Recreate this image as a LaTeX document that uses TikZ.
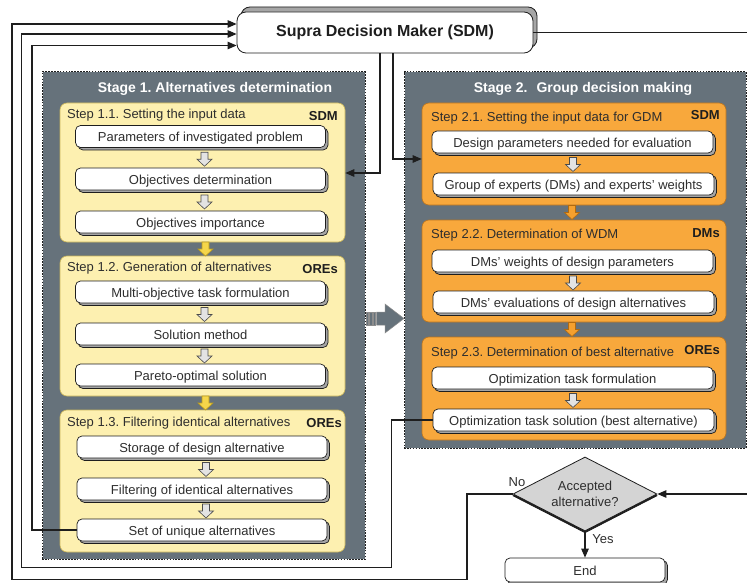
\documentclass[tikz,border=0pt]{standalone}
\usepackage{fontspec}
\setmainfont{Liberation Sans}
\usetikzlibrary{shapes.geometric,arrows.meta,shadows,calc}
\definecolor{slate}{HTML}{66727B}
\definecolor{ylw}{HTML}{FDF0B0}
\definecolor{ylwd}{HTML}{C9B45A}
\definecolor{org}{HTML}{F8A83C}
\definecolor{orgd}{HTML}{B87420}
\definecolor{ink}{HTML}{2E2E2E}
\definecolor{lin}{HTML}{1E1E1E}
\definecolor{shad}{HTML}{A6A6A6}
\definecolor{yarr}{HTML}{F5D64A}
\definecolor{yarrd}{HTML}{B89A20}
\definecolor{oarr}{HTML}{F5A02E}
\definecolor{oarrd}{HTML}{B06A10}
\definecolor{garr}{HTML}{E3E3E3}
\definecolor{dgray}{HTML}{D4D4D4}
\frenchspacing
\begin{document}
\begin{tikzpicture}[x=1pt,y=-1pt,
  txt/.style={font=\fontsize{13}{15}\selectfont, text=ink},
  lbl/.style={txt, inner sep=0pt, anchor=west},
  tag/.style={font=\fontsize{13}{15}\selectfont\bfseries, text=lin, inner sep=0pt, anchor=east},
  stagebox/.style={draw=white, line width=1pt, fill=slate, inner sep=0pt,
     postaction={draw=lin, dash pattern=on 1.6pt off 1.3pt, line width=1pt}},
  stagetitle/.style={font=\fontsize{14}{16}\selectfont\bfseries, text=white},
  yelbox/.style={draw=ylwd, fill=ylw, rounded corners=7pt, line width=0.6pt, inner sep=0pt, minimum width=285pt},
  orgbox/.style={draw=orgd, fill=org, rounded corners=7pt, line width=0.6pt, inner sep=0pt, minimum width=304pt},
  ibox/.style={txt, draw=lin, line width=0.7pt, fill=white, rounded corners=5pt, inner sep=0pt, minimum height=22pt,
     text height=11pt, text depth=0pt,
     general shadow={shadow xshift=2.5pt, shadow yshift=-2.5pt, fill=shad, draw=lin, line width=0.7pt}},
  ib1/.style={ibox, minimum width=250pt},
  ib2/.style={ibox, minimum width=281pt},
  sdmbox/.style={font=\fontsize{16}{18}\selectfont\bfseries, text=lin, draw=lin, line width=0.8pt, fill=white,
     rounded corners=9pt, inner sep=0pt, minimum width=296pt, minimum height=41pt,
     general shadow={shadow xshift=4pt, shadow yshift=5pt, fill=shad, draw=lin, line width=0.8pt}},
  decbox/.style={diamond, aspect=2, draw=lin, line width=0.8pt, fill=dgray, minimum width=144pt, minimum height=74pt,
     inner sep=0pt, align=center, font=\fontsize{13}{16}\selectfont, text=ink,
     general shadow={shadow xshift=0pt, shadow yshift=-1.8pt, fill=lin, draw=lin}},
  conn/.style={draw=lin, line width=1.1pt},
  arr/.style={conn, -{Triangle[length=9pt,width=7.5pt]}},
  pics/blockdown/.style 2 args={code={
     \path[fill=#1, draw=#2, line width=0.6pt]
       (-3.5,-7) -- (3.5,-7) -- (3.5,0) -- (7.5,0) -- (0,7) -- (-7.5,0) -- (-3.5,0) -- cycle;}}
]
\fill[white] (0,0) rectangle (747,583);
\useasboundingbox (0,0) rectangle (747,583);

% stages
\node[stagebox, minimum width=323pt, minimum height=487pt] (st1) at (203.5,315.5) {};
\node[stagebox, minimum width=342pt, minimum height=376pt] (st2) at (575,260) {};
\node[stagetitle] (t1) at (215,89) {Stage 1. Alternatives determination};
\node[stagetitle] (t2) at (583,89) {Stage 2.\hspace{9pt}Group decision making};

% big arrow between stages
\path[fill=slate, draw=black!45, line width=0.5pt]
  (376.5,312) -- (385,312) -- (385,304) -- (404,318.5) -- (385,333) -- (385,325) -- (376.5,325) -- cycle;
\foreach \xa in {366,369.5,373}
  \path[fill=slate, draw=black!45, line width=0.4pt] (\xa,312) rectangle ++(2.2,13);

% steps
\node[yelbox, minimum height=139pt] (s11) at (202.5,172.5) {};
\node[yelbox, minimum height=140pt] (s12) at (202.5,326) {};
\node[yelbox, minimum height=142pt] (s13) at (202.5,481) {};
\node[orgbox, minimum height=102pt] (s21) at (574,154) {};
\node[orgbox, minimum height=102pt] (s22) at (574,271) {};
\node[orgbox, minimum height=103pt] (s23) at (574,388.5) {};

\node[lbl] (l11) at (67,115) {Step 1.1. Setting the input data};
\node[tag] (g11) at (338,116) {SDM};
\node[lbl] (l12) at (67,268) {Step 1.2. Generation of alternatives};
\node[tag] (g12) at (338,269) {OREs};
\node[lbl] (l13) at (67,423) {Step 1.3. Filtering identical alternatives};
\node[tag] (g13) at (342,423) {OREs};
\node[lbl] (l21) at (431,118) {Step 2.1. Setting the input data for GDM};
\node[tag] (g21) at (720,115) {SDM};
\node[lbl] (l22) at (431,235) {Step 2.2. Determination of WDM};
\node[tag] (g22) at (720,233) {DMs};
\node[lbl] (l23) at (431,353) {Step 2.3. Determination of best alternative};
\node[tag] (g23) at (720,350) {OREs};

% inner boxes stage 1
\node[ib1] (p11) at (200.5,136.5) {Parameters of investigated problem};
\node[ib1] (p12) at (200.5,179) {Objectives determination};
\node[ib1] (p13) at (200.5,222) {Objectives importance};
\node[ib1] (p21) at (200.5,292) {Multi-objective task formulation};
\node[ib1] (p22) at (200.5,334) {Solution method};
\node[ib1] (p23) at (200.5,375) {Pareto-optimal solution};
\node[ib1] (p31) at (202,447) {Storage of design alternative};
\node[ib1] (p32) at (202,489) {Filtering of identical alternatives};
\node[ib1] (unique) at (202,530) {Set of unique alternatives};
% inner boxes stage 2
\node[ib2] (q11) at (572.5,142) {Design parameters needed for evaluation};
\node[ib2] (q12) at (573.5,184) {Group of experts (DMs) and experts’ weights};
\node[ib2] (q21) at (572.5,261) {DMs’ weights of design parameters};
\node[ib2] (q22) at (573.5,302) {DMs’ evaluations of design alternatives};
\node[ib2] (q31) at (572.5,378) {Optimization task formulation};
\node[ib2] (sol) at (573.5,420) {Optimization task solution (best alternative)};

% small block arrows
\foreach \a/\b in {p11/p12,p12/p13,p21/p22,p22/p23,p31/p32,p32/unique}
  \pic at ($(\a.south)!0.5!(\b.north)+(4,1.5)$) {blockdown={garr}{lin!80}};
\foreach \a/\b in {q11/q12,q21/q22,q31/sol}
  \pic at ($(\a.south)!0.5!(\b.north)+(0,1.5)$) {blockdown={garr}{lin!80}};
\foreach \a/\b in {s11/s12,s12/s13}
  \pic at ($(\a.south)!0.5!(\b.north)+(3,0)$) {blockdown={yarr}{yarrd}};
\foreach \a/\b in {s21/s22,s22/s23}
  \pic at ($(\a.south)!0.5!(\b.north)+(-2,0)$) {blockdown={oarr}{oarrd}};

% SDM, decision, end
\node[sdmbox] (sdm) at (385,32.5) {Supra Decision Maker (SDM)};
\node[decbox] (dec) at (585,494) {Accepted\\alternative?};
\node[ibox, minimum width=160pt, minimum height=24pt] (end) at (585,570) {End};
\node[txt, inner sep=0pt] (no) at (517,482) {No};
\node[txt, inner sep=0pt] (yes) at (603,539) {Yes};

% lane coordinates
\coordinate (L1) at (12,0);
\coordinate (L2) at (21.5,0);
\coordinate (L3) at (32,0);
\coordinate (L4) at (391.5,0);
\coordinate (L5) at (467,0);
\coordinate (D1) at (380,0);
\coordinate (D2) at (393,0);
\coordinate (RE) at (748,0);
\coordinate (R1) at (0,24);
\coordinate (R2) at (0,34);
\coordinate (R3) at (0,45.5);
\coordinate (R4) at (0,173);
\coordinate (R5) at (0,159);
\coordinate (B1) at (0,579.5);
\coordinate (B2) at (0,567.5);

% connectors
\draw[arr] (dec.west) -- (dec.west -| L5) -- (L5 |- B1) -- (L1 |- B1) -- (L1 |- R1) -- (sdm.west |- R1);
\draw[arr] (sol.west) -- (sol.west -| L4) -- (L4 |- B2) -- (L2 |- B2) -- (L2 |- R2) -- (sdm.west |- R2);
\draw[arr] (unique.west) -- (unique.west -| L3) -- (L3 |- R3) -- (sdm.west |- R3);
\draw[arr] (sdm.south -| D1) -- (D1 |- R4) -- (s11.east |- R4);
\draw[arr] (sdm.south -| D2) -- (D2 |- R5) -- (s21.west |- R5);
\draw[conn] (sdm.east) -- (sdm.east -| RE);
\draw[arr] (RE |- dec.east) -- (dec.east);
\draw[arr] (dec.south) -- (end.north);
\end{tikzpicture}
\end{document}
